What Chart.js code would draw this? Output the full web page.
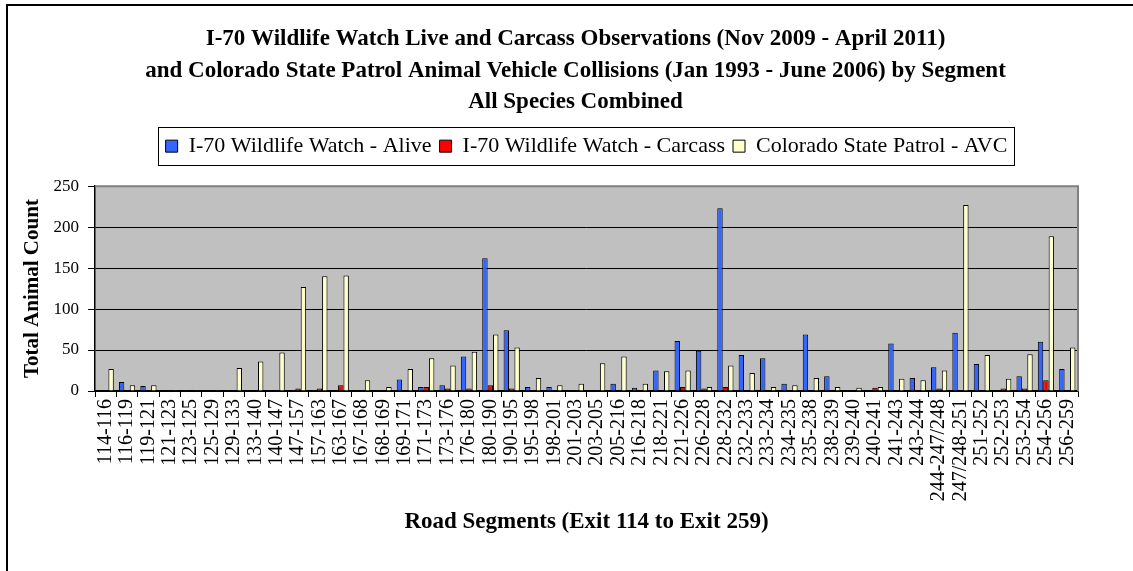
<!DOCTYPE html>
<html>
<head>
<meta charset="utf-8">
<script src="https://cdn.jsdelivr.net/npm/chart.js@4.4.1/dist/chart.umd.min.js"></script>
<style>
  html, body { margin: 0; padding: 0; background: #fff; }
</style>
</head>
<body>
<canvas id="chart" width="1133" height="571"></canvas>
<script>
// Road segments (exit to exit)
const segments = [
  '114-116', '116-119', '119-121', '121-123', '123-125', '125-129', '129-133', '133-140',
  '140-147', '147-157', '157-163', '163-167', '167-168', '168-169', '169-171', '171-173',
  '173-176', '176-180', '180-190', '190-195', '195-198', '198-201', '201-203', '203-205',
  '205-216', '216-218', '218-221', '221-226', '226-228', '228-232', '232-233', '233-234',
  '234-235', '235-238', '238-239', '239-240', '240-241', '241-243', '243-244', '244-247/248',
  '247/248-251', '251-252', '252-253', '253-254', '254-256', '256-259'
];

// I-70 Wildlife Watch - Alive
const alive = [
  0, 11, 6, 0, 1, 0, 1, 0, 1, 1, 1, 0, 1, 1, 14, 5,
  7, 42, 162, 74, 5, 5, 1, 0, 9, 4, 25, 61, 49, 223, 44, 40,
  9, 69, 18, 1, 1, 58, 16, 29, 71, 33, 0, 18, 60, 27
];

// I-70 Wildlife Watch - Carcass
const carcass = [
  0, 0, 0, 1, 0, 0, 0, 1, 1, 3, 3, 7, 1, 1, 0, 5,
  3, 3, 7, 3, 1, 1, 1, 1, 1, 1, 0, 5, 3, 5, 1, 1,
  0, 0, 1, 1, 4, 1, 1, 3, 1, 0, 3, 3, 13, 1
];

// Colorado State Patrol - AVC
const avc = [
  27, 7, 7, 1, 1, 1, 28, 36, 47, 127, 140, 141, 13, 5, 27, 40,
  31, 48, 69, 53, 16, 7, 9, 34, 42, 9, 24, 25, 5, 31, 22, 5,
  7, 16, 5, 4, 5, 15, 13, 25, 227, 44, 15, 45, 189, 53
];

const yTicks = [0, 50, 100, 150, 200, 250];

const serif = "'Liberation Serif', 'Times New Roman', serif";

// page frame, grey plot background and plot border
const framePlugin = {
  id: 'framePlugin',
  beforeDraw(chart) {
    const { ctx, chartArea: a } = chart;
    ctx.save();
    ctx.fillStyle = '#ffffff';
    ctx.fillRect(0, 0, chart.width, chart.height);
    ctx.fillStyle = '#c0c0c0';
    ctx.fillRect(a.left, a.top, a.right - a.left, a.bottom - a.top);
    ctx.strokeStyle = '#000';
    ctx.lineWidth = 2;
    ctx.beginPath();
    ctx.moveTo(7, chart.height);
    ctx.lineTo(7, 5);
    ctx.lineTo(chart.width, 5);
    ctx.stroke();
    ctx.restore();
  },
  beforeDatasetsDraw(chart) {
    const { ctx, chartArea: a } = chart;
    ctx.save();
    ctx.strokeStyle = '#808080';
    ctx.lineWidth = 2;
    ctx.beginPath();
    ctx.moveTo(a.left, a.top);
    ctx.lineTo(a.right, a.top);
    ctx.lineTo(a.right, a.bottom);
    ctx.stroke();
    ctx.restore();
  },
  afterDraw(chart) {
    // box around the legend
    const boxes = chart.legend.legendHitBoxes;
    if (!boxes || !boxes.length) return;
    const left = Math.min(...boxes.map(b => b.left));
    const right = Math.max(...boxes.map(b => b.left + b.width));
    const top = boxes[0].top;
    const h = boxes[0].height;
    const ctx = chart.ctx;
    ctx.save();
    ctx.strokeStyle = '#000';
    ctx.lineWidth = 1;
    ctx.strokeRect(Math.round(left - 8) + 0.5, Math.round(top - 8) + 0.5,
      Math.round(right - left + 14), Math.round(h + 16));
    ctx.restore();
  }
};

// extra space between legend and plot
const legendGap = {
  id: 'legendGap',
  beforeInit(chart) {
    const fit = chart.legend.fit;
    chart.legend.fit = function () {
      fit.call(this);
      this.height += 19;
    };
  }
};

new Chart(document.getElementById('chart'), {
  type: 'bar',
  data: {
    labels: segments,
    datasets: [
      { label: 'I-70 Wildlife Watch - Alive', data: alive, backgroundColor: '#3366ff' },
      { label: 'I-70 Wildlife Watch - Carcass', data: carcass, backgroundColor: '#ff0000' },
      { label: 'Colorado State Patrol - AVC', data: avc, backgroundColor: '#ffffcc' }
    ].map(d => Object.assign(d, {
      borderColor: '#000',
      borderWidth: 1,
      barPercentage: 1,
      categoryPercentage: 0.76
    }))
  },
  options: {
    responsive: false,
    animation: false,
    layout: { padding: { left: 18, right: 0, top: 0, bottom: 0 } },
    plugins: {
      title: {
        display: true,
        text: [
          'I-70 Wildlife Watch Live and Carcass Observations (Nov 2009 - April 2011)',
          'and Colorado State Patrol Animal Vehicle Collisions (Jan 1993 - June 2006) by Segment',
          'All Species Combined'
        ],
        color: '#000',
        font: { family: serif, size: 23, weight: 'bold', lineHeight: 1.35 },
        padding: { top: 24, bottom: 10 }
      },
      legend: {
        fullSize: false,
        labels: {
          color: '#000',
          font: { family: serif, size: 22 },
          boxWidth: 12,
          boxHeight: 12,
          padding: 8
        }
      },
      tooltip: { enabled: false }
    },
    scales: {
      x: {
        ticks: {
          color: '#000',
          font: { family: serif, size: 20 },
          minRotation: 90,
          maxRotation: 90,
          autoSkip: false,
          padding: 2
        },
        grid: { drawOnChartArea: false, color: '#000', tickLength: 6, offset: true },
        border: { color: '#000', width: 1.5 },
        title: {
          display: true,
          text: 'Road Segments (Exit 114 to Exit 259)',
          color: '#000',
          font: { family: serif, size: 23, weight: 'bold' },
          padding: { top: 0, bottom: 35 }
        },
        afterFit(s) { s.height = 180; }
      },
      y: {
        min: 0,
        max: 250,
        afterBuildTicks(s) { s.ticks = yTicks.map(v => ({ value: v })); },
        ticks: { color: '#000', font: { family: serif, size: 17 }, padding: 9 },
        grid: { color: '#000', tickLength: 7 },
        border: { color: '#000', width: 1.5 },
        title: {
          display: true,
          text: 'Total Animal Count',
          color: '#000',
          font: { family: serif, size: 21, weight: 'bold' },
          padding: { top: 2, bottom: 0 }
        },
        afterFit(s) { s.width = 77; }
      },
      y2: {
        position: 'right',
        display: true,
        grid: { display: false },
        ticks: { display: false },
        border: { display: false },
        afterFit(s) { s.width = 55; }
      }
    }
  },
  plugins: [framePlugin, legendGap]
});
</script>
</body>
</html>
